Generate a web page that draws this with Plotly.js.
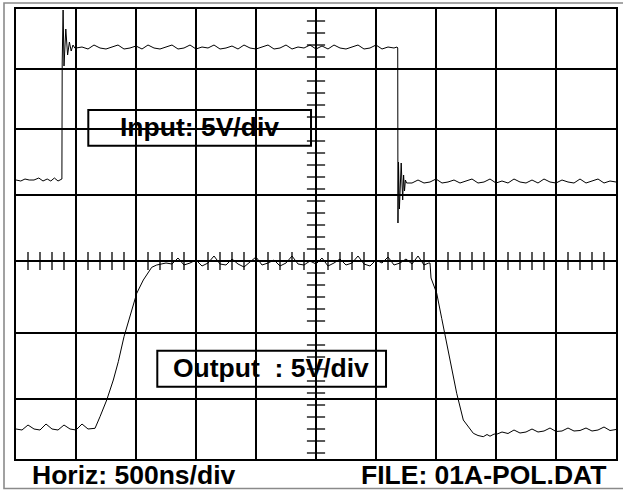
<!DOCTYPE html>
<html>
<head>
<meta charset="utf-8">
<script src="https://cdn.plot.ly/plotly-3.0.1.min.js"></script>
<style>html,body{margin:0;padding:0;background:#fff;}#chart{width:623px;height:491px;}</style>
</head>
<body>
<div id="chart"></div>
<script>
// Time in divisions (500 ns/div), level in screen units (0 = bottom graticule line)
const inputTime = [0.00,0.08,0.15,0.22,0.30,0.38,0.45,0.52,0.58,0.64,0.70,0.76,
  0.765,0.77,0.785,0.80,0.83,0.86,0.89,0.92,0.95,0.98,
  1.0,1.1,1.2,1.3,1.4,1.5,1.6,1.7,1.8,1.9,2.0,2.1,2.2,2.3,2.4,2.5,2.6,2.7,2.8,2.9,
  3.0,3.1,3.2,3.3,3.4,3.5,3.6,3.7,3.8,3.9,4.0,4.1,4.2,4.3,4.4,4.5,4.6,4.7,4.8,4.9,
  5.0,5.1,5.2,5.3,5.4,5.5,5.6,5.7,5.8,5.9,6.0,6.1,6.2,6.3,6.35,
  6.362,6.366,6.375,6.39,6.42,6.445,6.46,6.475,6.49,6.51,
  6.6,6.7,6.8,6.9,7.0,7.1,7.2,7.3,7.4,7.5,7.6,7.7,7.8,7.9,8.0,8.1,8.2,8.3,8.4,8.5,
  8.6,8.7,8.8,8.9,9.0,9.1,9.2,9.3,9.4,9.5,9.6,9.7,9.8,9.9,10.0];
const inputLevel = [279,278,280,279,279,281,278,280,278,281,278,280,
  280,396,449,393,430,404,417,408,414,411,
  411,412,410,414,411,410,412,414,410,411,413,410,414,411,410,412,414,410,411,414,
  410,412,411,414,410,411,413,410,414,411,410,412,414,410,411,414,410,412,411,414,
  410,413,410,414,411,410,412,414,410,411,414,410,412,411,412,
  411,236,297,250,296,259,284,268,279,276,
  276,279,276,277,280,276,277,279,276,278,280,276,277,280,276,278,276,280,277,276,
  279,276,280,277,276,279,277,276,280,276,278,280,276,278,277];

const outputTime = [0.0,0.1,0.2,0.3,0.4,0.5,0.6,0.7,0.8,0.9,1.0,1.1,1.2,1.3,
  1.317,1.4,1.512,1.622,1.705,1.8,1.9,2.012,2.122,2.262,2.345,2.455,
  2.5,2.6,2.7,2.8,2.9,3.0,3.1,3.2,3.3,3.4,3.5,3.6,3.7,3.8,3.9,4.0,4.1,4.2,4.3,4.4,
  4.5,4.6,4.7,4.8,4.9,5.0,5.1,5.2,5.3,5.4,5.5,5.6,5.7,5.8,5.9,6.0,6.1,6.2,6.3,6.4,
  6.5,6.6,6.7,6.8,6.88,
  6.9,6.917,7.012,7.095,7.345,7.455,7.567,7.622,7.7,7.788,7.85,7.9,7.97,
  8.0,8.1,8.2,8.3,8.4,8.5,8.6,8.7,8.8,8.9,9.0,9.1,9.2,9.3,9.4,9.5,9.6,9.7,9.8,9.9,10.0];
const outputLevel = [30,29,34,30,29,35,30,29,34,30,29,35,30,31,
  30.7,42.3,59,79,97.3,122.3,144,165.7,179,191.7,194,195,
  196,195,201,194,196,199,193,196,203,195,194,200,195,192,197,202,194,196,199,193,
  196,203,195,194,198,195,201,193,196,200,194,196,203,195,193,199,196,202,194,196,
  200,195,203,194,196,
  196,181,165.7,140.7,65.7,39,30.7,25.7,23.5,22.3,24.5,22.8,25,
  24.5,27,25.5,29,26,27,30,27,28,31,27.5,28,31,28,28.5,31,28,29,32,28.5,29.5];

// Graticule
const hLines = [0,60,126,198,264,330,390,450];   // horizontal graticule lines (screen units)
const centerTime = 5;      // vertical centre axis
const centerLevel = 198;   // horizontal centre axis
const labels = {
  horiz: 'Horiz: 500ns/div',
  file: 'FILE: 01A-POL.DAT',
  input: 'Input: 5V/div',
  output: 'Output \u00a0: 5V/div'
};

// minor tick positions on the centre axes
const hTickX = []; for (let i = 1; i < 50; i++) { if (i % 5) hTickX.push(i * 0.2); }
const vTickY = []; for (let k = 1; k <= 37; k++) { const v = 450 - 12 * k; if (hLines.indexOf(v) < 0) vTickY.push(v); }

const font = {family: 'Liberation Sans, Arial, sans-serif', size: 26.5, color: '#000', weight: 'bold'};

const traces = [
  {x: hTickX, y: hTickX.map(() => centerLevel), mode: 'markers', hoverinfo: 'skip',
   marker: {symbol: 'line-ns', size: 13, color: '#000', line: {color: '#000', width: 1.3}}},
  {x: vTickY.map(() => centerTime), y: vTickY, mode: 'markers', hoverinfo: 'skip',
   marker: {symbol: 'line-ew', size: 13, color: '#000', line: {color: '#000', width: 1.3}}},
  {x: inputTime, y: inputLevel, mode: 'lines', line: {color: '#000', width: 1}},
  {x: outputTime, y: outputLevel, mode: 'lines', line: {color: '#000', width: 1}}
];

const layout = {
  width: 623, height: 491,
  margin: {l: 16, r: 7, t: 9, b: 32, pad: 0},
  paper_bgcolor: '#fff', plot_bgcolor: '#fff',
  showlegend: false,
  xaxis: {range: [0, 10], dtick: 1, tick0: 0, showgrid: true, gridcolor: '#000', gridwidth: 2,
          showticklabels: false, ticks: '', zeroline: false,
          showline: true, linecolor: '#000', linewidth: 2, mirror: true, fixedrange: true},
  yaxis: {range: [0, 450], tickmode: 'array', tickvals: hLines, showgrid: true, gridcolor: '#000', gridwidth: 2,
          showticklabels: false, ticks: '', zeroline: false,
          showline: true, linecolor: '#000', linewidth: 2, mirror: true, fixedrange: true},
  shapes: [
    {type: 'rect', xref: 'x', yref: 'y', x0: 1.205, x1: 4.917, y0: 313.3, y1: 349, line: {color: '#000', width: 2}, layer: 'above'},
    {type: 'rect', xref: 'x', yref: 'y', x0: 2.355, x1: 6.167, y0: 72.3, y1: 108.3, line: {color: '#000', width: 2}, layer: 'above'},
    {type: 'rect', xref: 'paper', yref: 'paper', x0: -0.02, x1: 1.02, y0: -0.0655, y1: 1.0133, line: {color: '#8a8a8a', width: 1.6}, layer: 'above'}
  ],
  annotations: [
    {text: labels.horiz, xref: 'paper', yref: 'paper', x: 0.0233, y: -0.036, xanchor: 'left', yanchor: 'middle', showarrow: false, font: font},
    {text: labels.file, xref: 'paper', yref: 'paper', x: 0.9867, y: -0.036, xanchor: 'right', yanchor: 'middle', showarrow: false, font: font},
    {text: labels.input, xref: 'x', yref: 'y', x: 3.053, y: 332.3, xanchor: 'center', yanchor: 'middle', showarrow: false, font: font},
    {text: labels.output, xref: 'x', yref: 'y', x: 4.253, y: 91.5, xanchor: 'center', yanchor: 'middle', showarrow: false, font: font}
  ]
};

Plotly.newPlot('chart', traces, layout, {displayModeBar: false, staticPlot: true});
</script>
</body>
</html>
